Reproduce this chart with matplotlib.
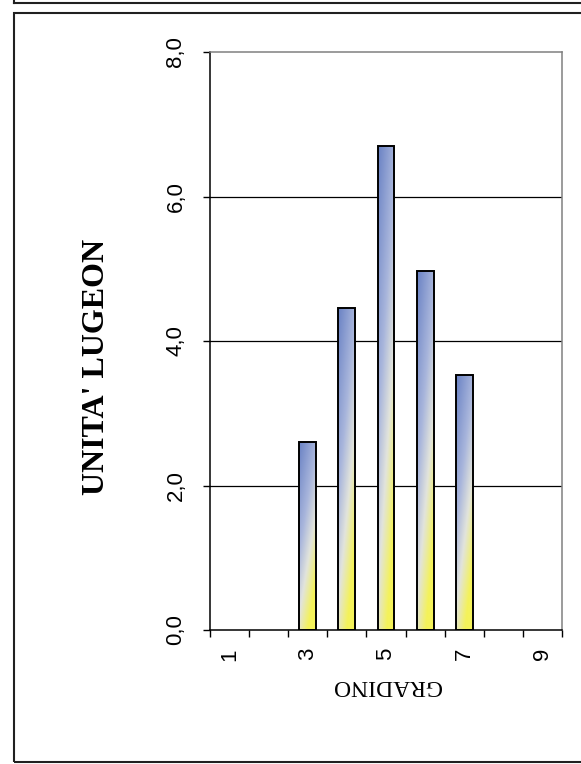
import numpy as np
import matplotlib.pyplot as plt
from matplotlib.colors import LinearSegmentedColormap
from matplotlib.patches import Rectangle
from matplotlib.lines import Line2D

# data
gradino = [1, 2, 3, 4, 5, 6, 7, 8, 9]
lugeon = [None, None, 2.6, 4.45, 6.7, 4.97, 3.53, None, None]
tick_labels = ['1', '', '3', '', '5', '', '7', '', '9']
y_ticks = [0, 2, 4, 6, 8]
y_tick_labels = ['0,0', '2,0', '4,0', '6,0', '8,0']

W, H = 581, 764
fig = plt.figure(figsize=(W / 100, H / 100), dpi=100)
ax = fig.add_axes([210 / W, 1 - 630 / H, (562 - 210) / W, (630 - 52) / H])

cmap = LinearSegmentedColormap.from_list(
    'blueyellow', [(0.0, '#6a82c4'), (0.45, '#a9b6dc'), (0.72, '#e2e4dc'), (1.0, '#f4f25a')])

xs = [g for g, v in zip(gradino, lugeon) if v is not None]
vs = [v for v in lugeon if v is not None]
bars = ax.bar(xs, vs, width=0.43, facecolor='none', edgecolor='black', linewidth=1.4, zorder=3)

# gradient fill, blue at top-left to yellow at bottom-right
yy, xx = np.mgrid[0:1:120j, 0:1:30j]
t = np.clip(0.78 * (1 - yy) + 0.42 * xx, 0, 1)
for b in bars:
    x0, y0 = b.get_xy()
    im = ax.imshow(t, cmap=cmap, vmin=0, vmax=1, origin='lower', aspect='auto',
                   extent=(x0, x0 + b.get_width(), y0, y0 + b.get_height()), zorder=2,
                   interpolation='bilinear')
    im.set_clip_path(b)

ax.set_xlim(0.5, 9.5)
ax.set_ylim(0, 8)

ax.set_yticks(y_ticks)
ax.set_yticklabels(y_tick_labels, rotation=90, va='center', family='Liberation Sans', fontsize=16)
ax.set_xticks(np.arange(0.5, 10, 1))
ax.set_xticklabels([])
ax.set_xticks(gradino, minor=True)
ax.set_xticklabels(tick_labels, minor=True, rotation=90, family='Liberation Sans', fontsize=16)
ax.tick_params(axis='y', direction='out', length=5, width=1, pad=12)
ax.tick_params(axis='x', which='major', direction='out', length=5, width=1)
ax.tick_params(axis='x', which='minor', length=0, pad=13)

for yv in y_ticks[1:-1]:
    ax.axhline(yv, color='black', linewidth=0.9, zorder=1)

ax.spines['top'].set_color('#808080')
ax.spines['right'].set_color('#808080')
for s in ax.spines.values():
    s.set_linewidth(1.1)

fig.text(96 / W, 1 - 367 / H, "UNITA' LUGEON", rotation=90, ha='center', va='center',
         family='Liberation Serif', fontweight='bold', fontsize=23)
fig.text(386 / W, 1 - 686 / H, 'GRADINO', rotation=180, ha='center', va='center',
         family='Liberation Serif', fontsize=17)

# surrounding frames
fig.add_artist(Rectangle((13.5 / W, 1 - 762 / H), 600 / W, (762 - 12.5) / H,
                         transform=fig.transFigure, fill=False, edgecolor='#202020', linewidth=1.5))
fig.add_artist(Line2D([13.5 / W, 1.05], [1 - 2.5 / H] * 2, transform=fig.transFigure,
                      color='#202020', linewidth=1.5))
fig.add_artist(Line2D([13.5 / W] * 2, [1.0, 1 - 2.5 / H], transform=fig.transFigure,
                      color='#202020', linewidth=1.5))

fig.savefig('out.png', dpi=100)
